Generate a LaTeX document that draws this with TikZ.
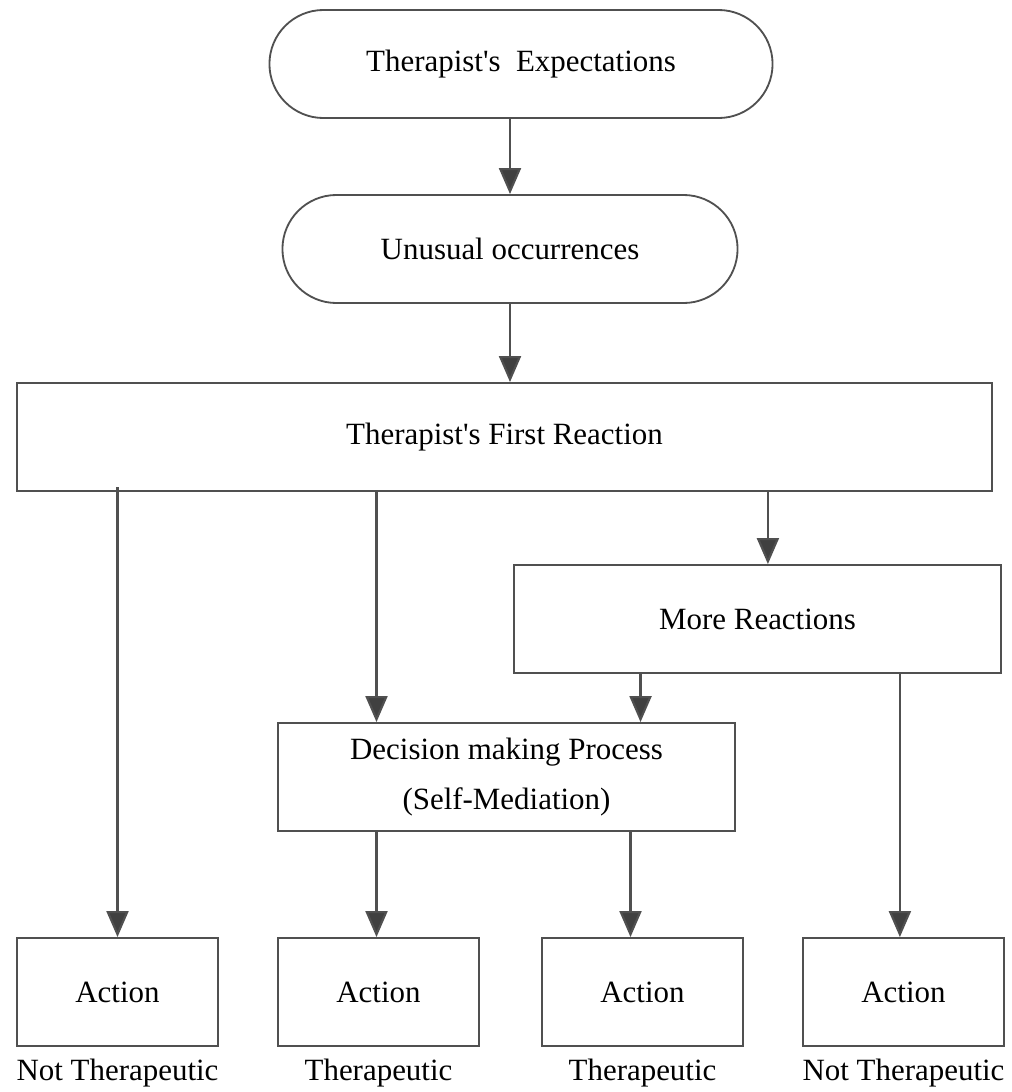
\documentclass[tikz,border=0pt]{standalone}
\usepackage{fontspec}
\setmainfont{Liberation Serif}
\usepackage{xcolor}
\usepackage{tikz}
\usetikzlibrary{positioning,arrows.meta,calc}
\definecolor{flowgray}{RGB}{80, 80, 80}
\definecolor{tipgray}{RGB}{64, 64, 64}

\begin{document}
\begin{tikzpicture}[
    x=0.025cm, y=-0.025cm,
    stadiumbox/.style={
        rectangle, draw=flowgray, line width=1.3pt, fill=white,
        minimum width=#1, minimum height=2.7cm,
        rounded corners=1.35cm, inner sep=0pt,
        font=\fontsize{22}{27}\selectfont
    },
    flowbox/.style={
        rectangle, draw=flowgray, line width=1.3pt, fill=white,
        minimum width=#1, minimum height=2.7cm,
        inner sep=0pt, align=center,
        font=\fontsize{22}{27}\selectfont
    },
    outlabel/.style={font=\fontsize{22}{27}\selectfont, inner sep=0pt},
    flow/.style={draw=flowgray, line width=1.5pt, -{Triangle[length=0.65cm, width=0.55cm, fill=tipgray]}}
]
    \useasboundingbox (0,0) rectangle (1012,1092);

    \node[stadiumbox=12.575cm] (expect) at (521,64) {Therapist\textquotesingle s\ \ Expectations};
    \node[stadiumbox=11.375cm] (unusual) at (510,249) {Unusual occurrences};
    \node[flowbox=24.375cm] (first) at (504.5,437) {Therapist\textquotesingle s First Reaction};
    \node[flowbox=12.175cm] (more) at (757.5,619) {More Reactions};
    \node[flowbox=11.425cm] (decision) at (506.5,777) {Decision making Process\\[0.3cm](Self-Mediation)};

    \node[flowbox=5.025cm] (act1) at (117.5,992) {Action};
    \node[flowbox=5.025cm] (act2) at (378.5,992) {Action};
    \node[flowbox=5.025cm] (act3) at (642.5,992) {Action};
    \node[flowbox=5.025cm] (act4) at (903.5,992) {Action};

    \node[outlabel, below=0.3cm of act1] (lab1) {Not Therapeutic};
    \node[outlabel, below=0.3cm of act2] (lab2) {Therapeutic};
    \node[outlabel, below=0.3cm of act3] (lab3) {Therapeutic};
    \node[outlabel, below=0.3cm of act4] (lab4) {Not Therapeutic};

    \coordinate (a2in) at ([xshift=-0.05cm]act2.north);
    \coordinate (a3in) at ([xshift=-0.3cm]act3.north);
    \coordinate (a4in) at ([xshift=-0.09cm]act4.north);
    \coordinate (morein) at ([xshift=0.26cm]more.north);
    \coordinate (decin) at ([xshift=3.35cm]decision.north);

    \draw[flow] (expect.south -| unusual.north) -- (unusual.north);
    \draw[flow] (unusual) -- (first.north -| unusual.north);
    \draw[flow] ([yshift=0.12cm]first.south -| act1.north) -- (act1.north);
    \draw[flow] (first.south -| a2in) -- (decision.north -| a2in);
    \draw[flow] (first.south -| morein) -- (morein);
    \draw[flow] (more.south -| decin) -- (decin);
    \draw[flow] (more.south -| a4in) -- (a4in);
    \draw[flow] (decision.south -| a2in) -- (a2in);
    \draw[flow] (decision.south -| a3in) -- (a3in);
\end{tikzpicture}
\end{document}
